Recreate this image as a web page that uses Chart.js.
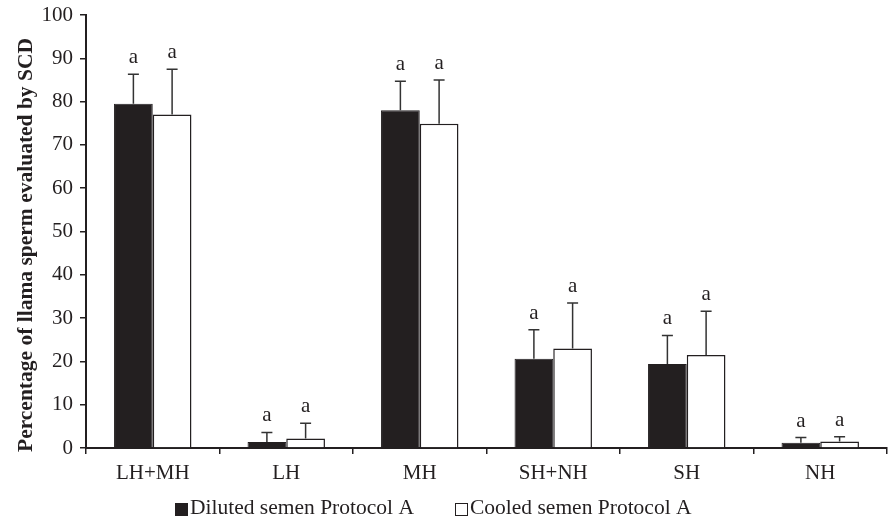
<!DOCTYPE html>
<html>
<head>
<meta charset="utf-8">
<script src="https://cdn.jsdelivr.net/npm/chart.js@4.4.0/dist/chart.umd.min.js"></script>
<style>
html,body{margin:0;padding:0;background:#fff;}
#wrap{width:895px;height:522px;position:relative;}
</style>
</head>
<body>
<div id="wrap"><canvas id="c" width="895" height="522"></canvas></div>
<script>
const categories = ["LH+MH", "LH", "MH", "SH+NH", "SH", "NH"];
const dilutedValues = [79.5, 1.4, 78.0, 20.6, 19.4, 1.2];
const dilutedErrors = [6.8, 2.2, 6.7, 6.7, 6.6, 1.2];
const cooledValues = [77.0, 2.2, 74.9, 23.0, 21.5, 1.5];
const cooledErrors = [10.5, 3.5, 10.1, 10.5, 10.1, 1.1];
const dilutedLetters = ["a", "a", "a", "a", "a", "a"];
const cooledLetters = ["a", "a", "a", "a", "a", "a"];
const yTicks = [0, 10, 20, 30, 40, 50, 60, 70, 80, 90, 100];
const seriesNames = ["Diluted semen Protocol A", "Cooled semen Protocol A"];
const yTitle = "Percentage of llama sperm evaluated by SCD";

const FONT = "'Liberation Serif', 'Times New Roman', serif";
const INK = "#231f20";

const errorPlugin = {
  id: 'errbars',
  afterDatasetsDraw(chart) {
    const ctx = chart.ctx;
    const y = chart.scales.y;
    const errs = [dilutedErrors, cooledErrors];
    const letters = [dilutedLetters, cooledLetters];
    ctx.save();
    chart.data.datasets.forEach((ds, di) => {
      const meta = chart.getDatasetMeta(di);
      meta.data.forEach((bar, i) => {
        const v = ds.data[i];
        const top = y.getPixelForValue(v + errs[di][i]);
        const base = y.getPixelForValue(v);
        ctx.strokeStyle = "#333";
        ctx.lineWidth = 1.5;
        ctx.beginPath();
        ctx.moveTo(bar.x, base);
        ctx.lineTo(bar.x, top);
        ctx.moveTo(bar.x - 5.5, top);
        ctx.lineTo(bar.x + 5.5, top);
        ctx.stroke();
        ctx.fillStyle = INK;
        ctx.font = "21px " + FONT;
        ctx.textAlign = "center";
        ctx.textBaseline = "alphabetic";
        ctx.fillText(letters[di][i], bar.x, top - 11);
      });
    });
    ctx.restore();
  }
};

const decorPlugin = {
  id: 'decor',
  afterDraw(chart) {
    const ctx = chart.ctx;
    const items = [
      { x: 175, fill: INK, text: chart.data.datasets[0].label },
      { x: 455, fill: '#ffffff', text: chart.data.datasets[1].label }
    ];
    ctx.save();
    ctx.font = "21.5px " + FONT;
    ctx.textBaseline = "middle";
    ctx.textAlign = "left";
    items.forEach(it => {
      ctx.fillStyle = it.fill;
      ctx.fillRect(it.x, 503, 13, 13);
      ctx.strokeStyle = INK;
      ctx.lineWidth = 1;
      ctx.strokeRect(it.x + 0.5, 503.5, 12, 12);
      ctx.fillStyle = INK;
      ctx.fillText(it.text, it.x + 15, 508);
    });
    // y-axis title
    ctx.translate(32, 245);
    ctx.rotate(-Math.PI / 2);
    ctx.font = "bold 21.5px " + FONT;
    ctx.textAlign = "center";
    ctx.textBaseline = "alphabetic";
    ctx.fillText(yTitle, 0, 0);
    ctx.restore();
  }
};

new Chart(document.getElementById('c'), {
  type: 'bar',
  data: {
    labels: categories,
    datasets: [
      { label: seriesNames[0], data: dilutedValues, backgroundColor: INK, borderColor: INK, borderWidth: 1 },
      { label: seriesNames[1], data: cooledValues, backgroundColor: '#ffffff', borderColor: INK, borderWidth: 1.5 }
    ]
  },
  options: {
    responsive: false,
    animation: false,
    devicePixelRatio: 1,
    layout: { padding: { top: 15, right: 8, left: 0, bottom: 38 } },
    datasets: { bar: { categoryPercentage: 0.58, barPercentage: 1.0 } },
    plugins: {
      tooltip: { enabled: false },
      legend: { display: false }
    },
    scales: {
      x: {
        offset: true,
        afterFit(scale) { scale.height = 36; },
        grid: { offset: true, drawOnChartArea: false, drawTicks: true, tickLength: 6, color: INK, lineWidth: 1.5 },
        border: { color: INK, width: 2 },
        ticks: { font: { family: FONT, size: 21 }, color: INK, padding: 7 }
      },
      y: {
        min: 0, max: 100,
        afterFit(scale) { scale.width = 86; scale.paddingTop = 0; scale.paddingBottom = 0; },
        afterBuildTicks(scale) { scale.ticks = yTicks.map(v => ({ value: v })); },
        grid: { drawOnChartArea: false, drawTicks: true, tickLength: 6, color: INK, lineWidth: 1.5 },
        border: { color: INK, width: 2 },
        ticks: { font: { family: FONT, size: 21, lineHeight: 1 }, color: INK, padding: 7 },
        title: { display: false }
      }
    }
  },
  plugins: [errorPlugin, decorPlugin]
});
</script>
</body>
</html>
